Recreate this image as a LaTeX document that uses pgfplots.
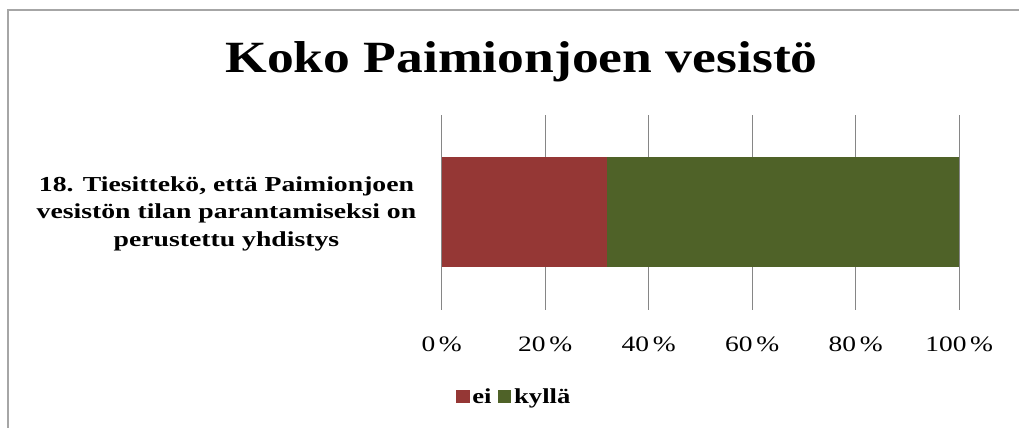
\documentclass[border=0pt]{standalone}
\usepackage{fontspec}
\setmainfont{Liberation Serif}
\newfontfamily\titlefont[FakeStretch=1.2]{Liberation Serif}
\newfontfamily\labfont[FakeStretch=1.3]{Liberation Serif}
\newfontfamily\tickfont[FakeStretch=1.25]{Liberation Serif}
\usepackage{pgfplots}
\pgfplotsset{compat=1.18}
\definecolor{eired}{HTML}{953735}
\definecolor{kygreen}{HTML}{4F6228}
\definecolor{gridgray}{HTML}{868686}
\begin{document}
\begin{tikzpicture}
\path (0pt,0pt) rectangle (765pt,321pt);
\draw[gray!70, line width=1.2pt] (6pt,0pt) -- (6pt,313.5pt) -- (765pt,313.5pt);
\node[font=\titlefont\fontsize{33.5}{40}\selectfont\bfseries, anchor=base] at (391.5pt,266.25pt) {Koko Paimionjoen vesistö};
\node[font=\labfont\fontsize{16}{20.6}\selectfont\bfseries, align=center] at (170pt,160.5pt)
  {18. Tiesittekö, että Paimionjoen\\vesistön tilan parantamiseksi on\\perustettu yhdistys};
\begin{axis}[
  at={(331.5pt,88.5pt)}, anchor=south west,
  scale only axis, width=388.5pt, height=146.25pt,
  xbar stacked, bar width=1.128,
  xmin=0, xmax=100, ymin=-1, ymax=1,
  axis line style={draw=none},
  major tick length=0pt,
  xmajorgrids, grid style={gridgray, line width=0.9pt},
  xtick={0,20,40,60,80,100},
  ytick=\empty,
  xticklabels={0\,\%,20\,\%,40\,\%,60\,\%,80\,\%,100\,\%},
  xticklabel style={font=\tickfont\fontsize{16.5}{18}\selectfont, yshift=-17pt},
  /pgf/number format/assume math mode=true,
  legend columns=2,
  legend style={draw=none, at={(0.02,-0.446)}, anchor=west,
    font=\tickfont\fontsize{16}{18}\selectfont\bfseries,
    /tikz/every even column/.append style={column sep=3pt}},
  legend image code/.code={\fill[#1] (0pt,-5pt) rectangle (10pt,5pt);},
]
\addplot[fill=eired, draw=none] coordinates {(32,0)};
\addplot[fill=kygreen, draw=none] coordinates {(68,0)};
\legend{ei,kyllä}
\end{axis}
\end{tikzpicture}
\end{document}
